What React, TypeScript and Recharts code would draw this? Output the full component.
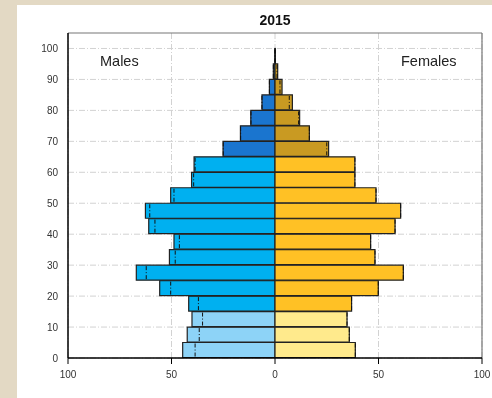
import { Bar, BarChart, CartesianGrid, Cell, ReferenceLine, XAxis, YAxis } from "recharts";

// 5-year age bands, youngest first
const bands = [
  "0-4", "5-9", "10-14", "15-19", "20-24", "25-29", "30-34", "35-39", "40-44", "45-49",
  "50-54", "55-59", "60-64", "65-69", "70-74", "75-79", "80-84", "85-89", "90-94", "95-99", "100+",
];
const bandStart = [0, 5, 10, 15, 20, 25, 30, 35, 40, 45, 50, 55, 60, 65, 70, 75, 80, 85, 90, 95, 100];

const males2015 = [
  44.6, 42.4, 40.1, 41.7, 55.7, 67, 51, 48.8, 61, 62.6,
  50.4, 40.3, 39.1, 25.1, 16.7, 11.7, 6.3, 2.7, 0.8, 0.1, 0,
];
const females2015 = [
  38.8, 35.9, 34.8, 37, 49.9, 62, 48.3, 46.2, 58, 60.7,
  48.8, 38.6, 38.6, 25.9, 16.6, 11.9, 8.4, 3.4, 1.3, 0.2, 0,
];
// dash-dot markers (comparison profile)
const malesRef = [
  38.6, 36.6, 35, 37, 50.4, 62.2, 48.2, 46.2, 58, 60.5,
  48.8, 39.3, 38.6, 25, 16.6, 11.6, 6.3, 2.7, 0.8, 0.1, 0,
];
const femalesRef = [
  38.8, 35.9, 34.8, 37, 49.9, 62, 48.3, 46.2, 58, 60.7,
  48.8, 38.6, 38.6, 25, 16.6, 11.4, 6.9, 2.4, 1, 0.2, 0,
];

const xTicks = [-100, -50, 0, 50, 100];
const ageTicks = [0, 10, 20, 30, 40, 50, 60, 70, 80, 90, 100];

const data = bands.map((band, i) => ({
  band,
  start: bandStart[i],
  male: -males2015[i],
  female: females2015[i],
  refMale: -malesRef[i],
  refFemale: femalesRef[i],
}));

function maleColor(age: number) {
  if (age < 15) return "#8dd3f7";
  if (age < 65) return "#00b0f0";
  return "#1a75cf";
}

function femaleColor(age: number) {
  if (age < 15) return "#ffea8c";
  if (age < 65) return "#ffc125";
  return "#c99a22";
}

function refMarker(side: "m" | "f") {
  return (props: any) => {
    const { x, y, width, height } = props;
    if (!width) return <g />;
    const edge = side === "m" ? Math.min(x, x + width) : Math.max(x, x + width);
    return (
      <line
        x1={edge}
        x2={edge}
        y1={y + 1}
        y2={y + height - 1}
        stroke="#111"
        strokeWidth={1}
        strokeDasharray="4 2 1 2"
      />
    );
  };
}

const font = "'Liberation Sans', Arial, sans-serif";

export default function App() {
  return (
    <div style={{ position: "fixed", inset: 0, background: "#e3d9c4" }}>
      <div
        style={{
          position: "absolute",
          left: 17,
          top: 5,
          width: 475,
          height: 393,
          background: "#fff",
          fontFamily: font,
        }}
      >
        <div
          style={{
            position: "absolute",
            left: 0,
            width: 516,
            top: 7,
            textAlign: "center",
            fontWeight: "bold",
            fontSize: 14,
            color: "#111",
          }}
        >
          2015
        </div>
        <BarChart
          width={475}
          height={393}
          data={data}
          layout="vertical"
          stackOffset="sign"
          barSize={15}
          barGap={-15}
          barCategoryGap={0}
          margin={{ top: 28, right: 10, bottom: 0, left: 0 }}
        >
          <CartesianGrid
            yAxisId="age"
            stroke="#d2d2d2"
            strokeDasharray="6 2 1 2"
            verticalValues={xTicks}
            horizontalValues={ageTicks}
          />
          <XAxis
            type="number"
            domain={[-100, 100]}
            ticks={xTicks}
            tickFormatter={(v) => String(Math.abs(v))}
            axisLine={{ stroke: "#000", strokeWidth: 1.5 }}
            tickLine={{ stroke: "#000" }}
            tickSize={6}
            tickMargin={7}
            tick={{ fontSize: 10, fill: "#333", fontFamily: font }}
            height={40}
          />
          <YAxis
            yAxisId="band"
            type="category"
            dataKey="band"
            reversed
            hide
          />
          <YAxis
            yAxisId="age"
            type="number"
            dataKey="start"
            domain={[0, 105]}
            allowDataOverflow
            reversed
            ticks={ageTicks}
            width={51}
            axisLine={{ stroke: "#000", strokeWidth: 1.5 }}
            tickLine={false}
            tickMargin={4}
            tick={{ fontSize: 10, fill: "#333", fontFamily: font }}
          />
          <ReferenceLine yAxisId="age" y={105} stroke="#777" strokeWidth={1.2} />
          <ReferenceLine yAxisId="age" x={100} stroke="#777" strokeWidth={1.2} />
          <Bar
            yAxisId="band"
            dataKey="male"
            stackId="pop"
            stroke="#222"
            strokeWidth={1.2}
            isAnimationActive={false}
          >
            {data.map((d) => (
              <Cell key={d.band} fill={maleColor(d.start)} />
            ))}
          </Bar>
          <Bar
            yAxisId="band"
            dataKey="female"
            stackId="pop"
            stroke="#222"
            strokeWidth={1.2}
            isAnimationActive={false}
          >
            {data.map((d) => (
              <Cell key={d.band} fill={femaleColor(d.start)} />
            ))}
          </Bar>
          <Bar
            yAxisId="band"
            dataKey="refMale"
            stackId="ref"
            shape={refMarker("m")}
            isAnimationActive={false}
          />
          <Bar
            yAxisId="band"
            dataKey="refFemale"
            stackId="ref"
            shape={refMarker("f")}
            isAnimationActive={false}
          />
        </BarChart>
        <div
          style={{
            position: "absolute",
            left: 83,
            top: 48,
            fontSize: 14.5,
            color: "#222",
          }}
        >
          Males
        </div>
        <div
          style={{
            position: "absolute",
            left: 384,
            top: 48,
            fontSize: 14.5,
            color: "#222",
          }}
        >
          Females
        </div>
      </div>
    </div>
  );
}
